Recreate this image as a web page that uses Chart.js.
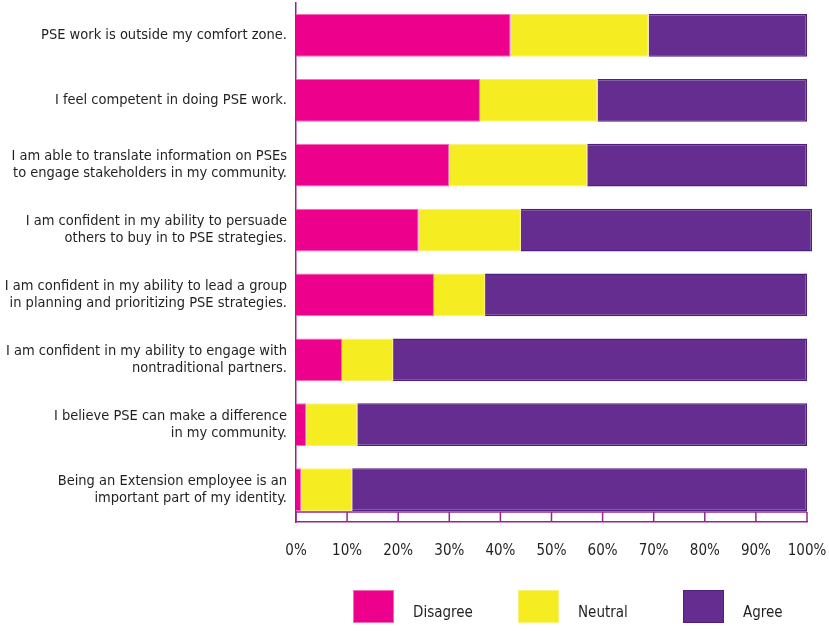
<!DOCTYPE html>
<html>
<head>
<meta charset="utf-8">
<script src="https://cdn.jsdelivr.net/npm/chart.js@4.4.1/dist/chart.umd.min.js"></script>
<style>
  html, body { margin: 0; padding: 0; background: #fff; }
  #wrap { width: 829px; height: 631px; position: relative; }
</style>
</head>
<body>
<div id="wrap"><canvas id="chart"></canvas></div>
<script>
// survey statements (top to bottom)
const statements = [
  'PSE work is outside my comfort zone.',
  'I feel competent in doing PSE work.',
  ['I am able to translate information on PSEs', 'to engage stakeholders in my community.'],
  ['I am confident in my ability to persuade', 'others to buy in to PSE strategies.'],
  ['I am confident in my ability to lead a group', 'in planning and prioritizing PSE strategies.'],
  ['I am confident in my ability to engage with', 'nontraditional partners.'],
  ['I believe PSE can make a difference', 'in my community.'],
  ['Being an Extension employee is an', 'important part of my identity.']
];

// percent of responses
const disagree = [42, 36, 30, 24, 27, 9, 2, 1];
const neutral = [27, 23, 27, 20, 10, 10, 10, 10];
const agree = [31, 41, 43, 57, 63, 81, 88, 89];

const xTicks = [0, 10, 20, 30, 40, 50, 60, 70, 80, 90, 100];

const FONT = "'Liberation Sans Narrow', 'DejaVu Sans Condensed', 'Roboto Condensed', sans-serif";
const AXIS = '#92278f';
const TEXT = '#231f20';

// little tick box under the last bar
const axisBox = {
  id: 'axisBox',
  afterDatasetsDraw(chart) {
    const {ctx, chartArea, scales: {x}} = chart;
    const top = chartArea.bottom - 10;
    ctx.save();
    ctx.strokeStyle = AXIS;
    ctx.lineWidth = 1.5;
    ctx.beginPath();
    ctx.moveTo(x.getPixelForValue(xTicks[0]), top);
    ctx.lineTo(x.getPixelForValue(xTicks[xTicks.length - 1]), top);
    xTicks.forEach(v => {
      const px = x.getPixelForValue(v);
      ctx.moveTo(px, top);
      ctx.lineTo(px, chartArea.bottom);
    });
    ctx.stroke();
    ctx.restore();
  }
};

// legend with big swatches spread under the plot
const bottomLegend = {
  id: 'bottomLegend',
  afterDraw(chart) {
    const {ctx, chartArea} = chart;
    ctx.save();
    ctx.font = '15px ' + FONT;
    ctx.textBaseline = 'middle';
    ctx.textAlign = 'left';
    chart.data.datasets.forEach((ds, i) => {
      const bx = chartArea.left + 57 + i * 165;
      const by = chartArea.bottom + 68;
      ctx.fillStyle = ds.backgroundColor;
      ctx.fillRect(bx, by, 41, 33);
      ctx.lineWidth = 1;
      ctx.strokeStyle = ds.borderColor;
      ctx.strokeRect(bx + 0.5, by + 0.5, 40, 32);
      ctx.fillStyle = TEXT;
      ctx.fillText(ds.label, bx + 60, by + 23);
    });
    ctx.restore();
  }
};

new Chart(document.getElementById('chart'), {
  type: 'bar',
  data: {
    labels: statements,
    datasets: [
      {
        label: 'Disagree',
        data: disagree,
        backgroundColor: '#ec008c',
        borderColor: '#f26db5',
        borderWidth: 1
      },
      {
        label: 'Neutral',
        data: neutral,
        backgroundColor: '#f5ec22',
        borderColor: '#f8f17a',
        borderWidth: 1
      },
      {
        label: 'Agree',
        data: agree,
        backgroundColor: '#662d91',
        borderColor: '#4f1f7d',
        borderWidth: 1.5
      }
    ]
  },
  options: {
    indexAxis: 'y',
    responsive: true,
    maintainAspectRatio: false,
    animation: false,
    datasets: {
      bar: {
        categoryPercentage: 0.66,
        barPercentage: 1,
        clip: false
      }
    },
    layout: {
      padding: {top: 3, right: 22, bottom: 61, left: 0}
    },
    scales: {
      x: {
        stacked: true,
        min: 0,
        max: 100,
        grid: {display: false, drawTicks: false},
        border: {display: true, color: AXIS, width: 1.5},
        ticks: {
          stepSize: 10,
          padding: 20,
          color: TEXT,
          font: {family: FONT, size: 15},
          callback: v => v + '%'
        },
        afterFit(scale) {
          scale.height = 48;
          scale.paddingLeft = 0;
          scale.paddingRight = 0;
        }
      },
      y: {
        stacked: true,
        grid: {display: false, drawTicks: false},
        border: {display: true, color: AXIS, width: 1.5},
        ticks: {
          padding: 9,
          color: TEXT,
          font: {family: FONT, size: 14.5, lineHeight: 1.17}
        },
        afterFit(scale) {
          scale.width = 296;
          scale.paddingTop = 0;
          scale.paddingBottom = 0;
        }
      }
    },
    plugins: {
      legend: {display: false},
      tooltip: {enabled: false}
    }
  },
  plugins: [axisBox, bottomLegend]
});
</script>
</body>
</html>
